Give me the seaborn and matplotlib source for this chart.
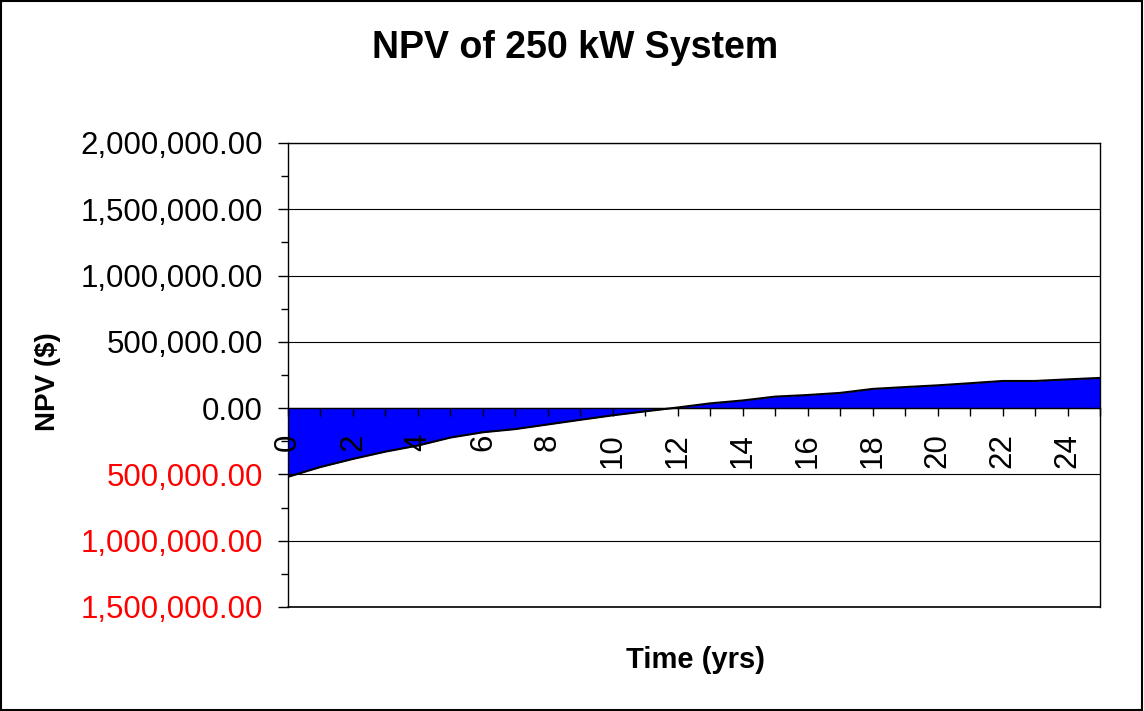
import pandas as pd
import matplotlib.pyplot as plt
import matplotlib.ticker as mticker
from matplotlib.patches import Rectangle
import seaborn as sns

# NPV by year
years = list(range(26))
npv = [-518000, -444000, -383000, -328000, -282000, -222000, -182000, -158000,
       -123000, -88000, -54000, -24000, 5000, 36000, 58000, 87000, 99000,
       115000, 145000, 159000, 172000, 188000, 205000, 205000, 217000, 228000]

df = pd.DataFrame({'Year': years, 'NPV': npv})

sns.set_style('white')
plt.rcParams['font.family'] = ['Liberation Sans', 'DejaVu Sans']
plt.rcParams['text.color'] = 'black'
plt.rcParams['xtick.color'] = 'black'
plt.rcParams['ytick.color'] = 'black'

fig = plt.figure(figsize=(11.44, 7.11), dpi=100)
ax = fig.add_axes([288 / 1144, 1 - 607 / 711, 812 / 1144, 464 / 711])

# area + outline
ax.fill_between(df['Year'], df['NPV'], 0, color='#0000FF', linewidth=0, zorder=1)
sns.lineplot(data=df, x='Year', y='NPV', color='black', linewidth=1.5, ax=ax, zorder=2)

ax.set_xlim(0, 25)
ax.set_ylim(-1500000, 2000000)

# y axis
ax.yaxis.set_major_locator(mticker.MultipleLocator(500000))
ax.yaxis.set_minor_locator(mticker.MultipleLocator(250000))
ax.yaxis.set_major_formatter(mticker.FuncFormatter(lambda v, p: f'{abs(v):,.2f}'))
ax.grid(axis='y', which='major', color='black', linewidth=0.8)
ax.set_axisbelow(False)
ax.tick_params(axis='y', which='major', direction='out', length=7, width=1,
               left=True, labelsize=22.5, pad=11)
ax.tick_params(axis='y', which='minor', direction='out', length=5, width=1, left=True)

# x axis sits on the zero line
ax.spines['bottom'].set_position(('data', 0))
ax.xaxis.set_major_locator(mticker.MultipleLocator(2))
ax.xaxis.set_minor_locator(mticker.MultipleLocator(1))
ax.xaxis.set_major_formatter(mticker.FormatStrFormatter('%d'))
ax.tick_params(axis='x', which='both', direction='out', length=6, width=1, bottom=True)
ax.tick_params(axis='x', which='major', labelsize=22.5, labelrotation=90, pad=12)
for lab in ax.get_xticklabels():
    lab.set_va('top')

for side in ['left', 'top', 'right', 'bottom']:
    ax.spines[side].set_color('black')
    ax.spines[side].set_linewidth(1)
ax.axhline(-1500000, color='black', linewidth=1.2, clip_on=False)

ax.set_xlabel('')
ax.set_ylabel('')

# negative values shown in red without a minus sign
for val, lab in zip(ax.get_yticks(), ax.get_yticklabels()):
    if val < 0:
        lab.set_color('red')

fig.text(575 / 1144, 1 - 48 / 711, 'NPV of 250 kW System', ha='center', va='center',
         fontsize=27, fontweight='bold')
fig.text(48 / 1144, 1 - 382 / 711, 'NPV ($)', ha='center', va='center', rotation=90,
         fontsize=20, fontweight='bold')
fig.text(695 / 1144, 1 - 660 / 711, 'Time (yrs)', ha='center', va='center',
         fontsize=21, fontweight='bold')

fig.patches.append(Rectangle((0.001, 0.002), 0.997, 0.996, transform=fig.transFigure,
                             fill=False, edgecolor='black', linewidth=1.5))

fig.savefig('out.png', dpi=100)
